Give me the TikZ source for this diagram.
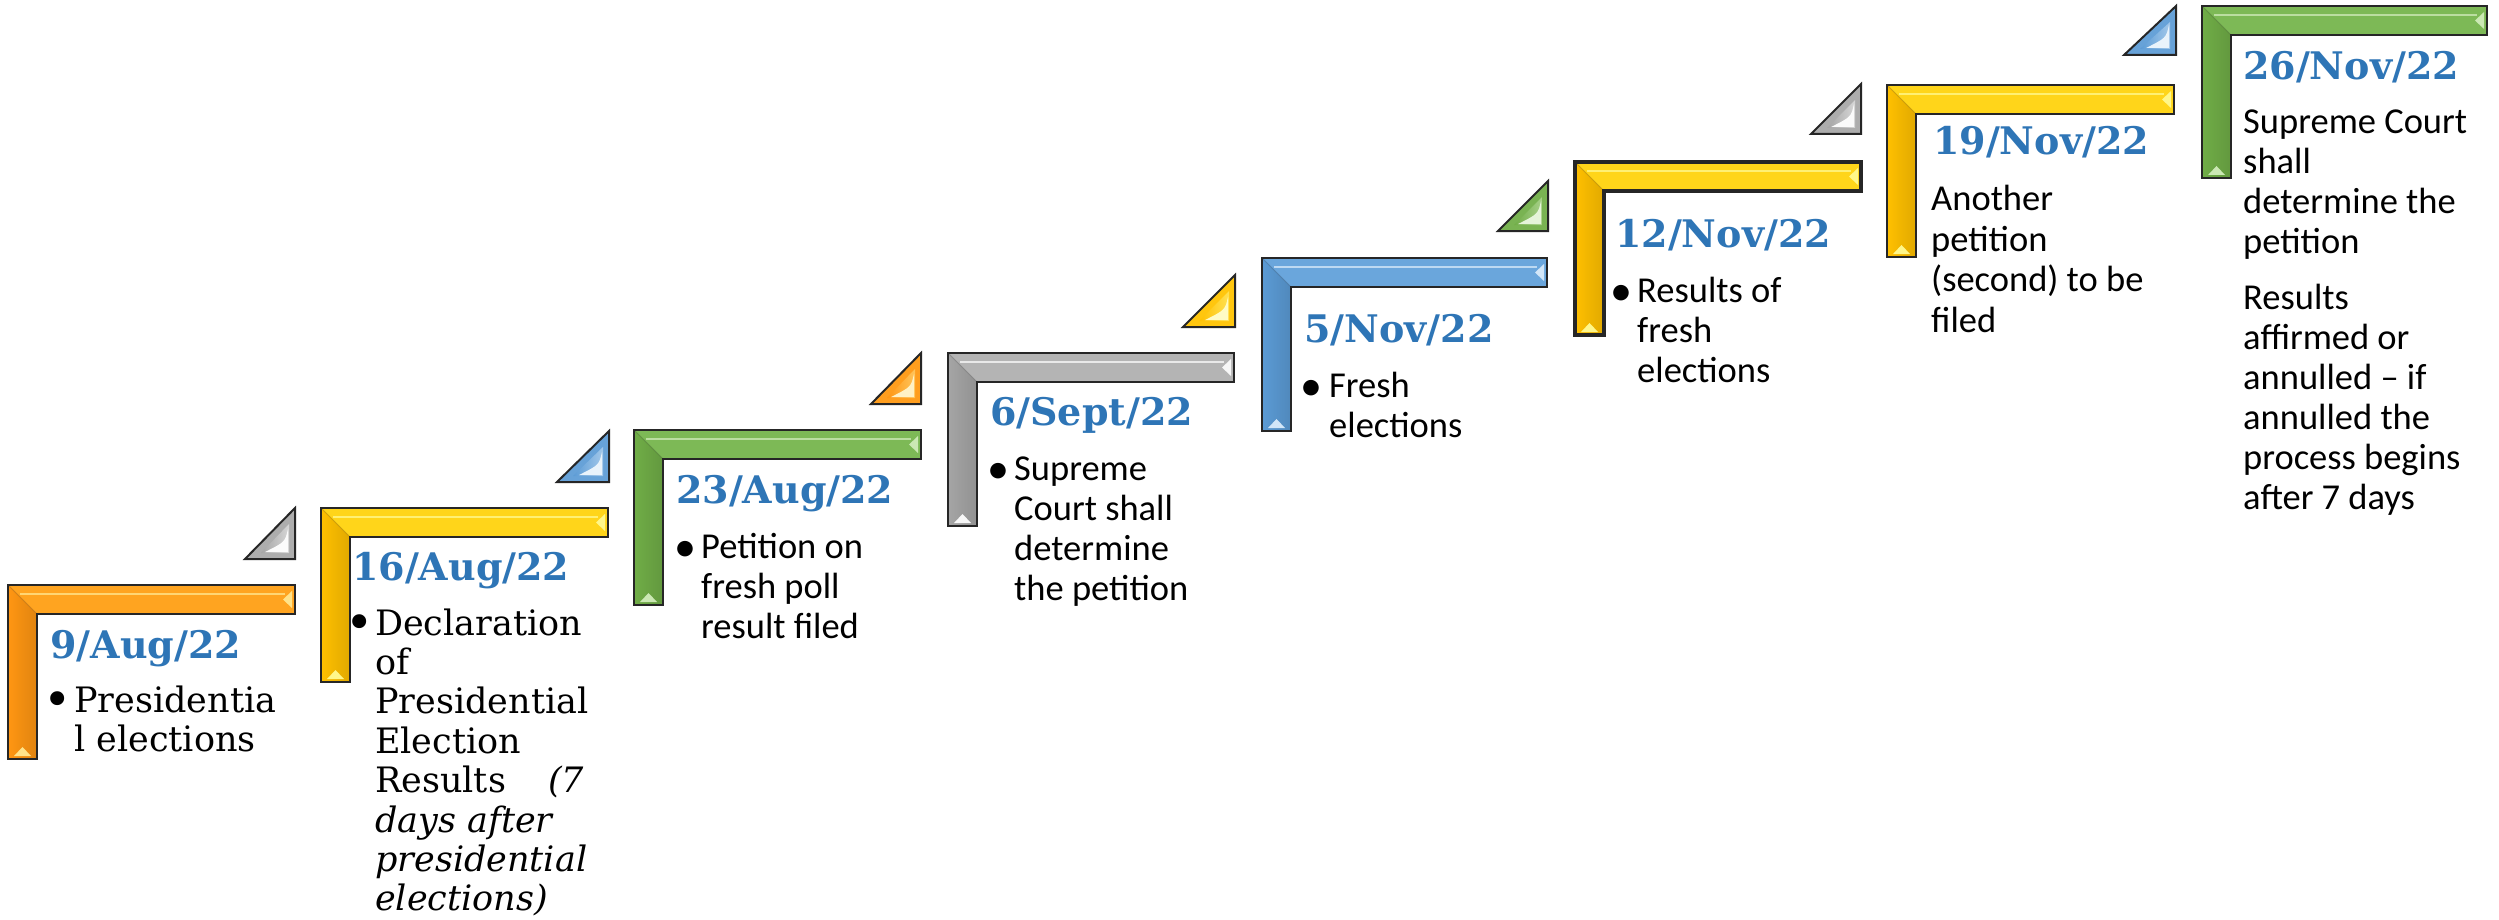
\documentclass[tikz,border=0pt]{standalone}
\usepackage{fontspec}
\setmainfont{Carlito}
\newfontfamily\datefont{DejaVu Serif}
\newfontfamily\oldserif{DejaVu Serif}
\definecolor{dateblue}{HTML}{2E75B6}
\definecolor{orbase}{HTML}{FF9612}
\definecolor{orbar}{HTML}{FFA420}
\definecolor{orlight}{HTML}{FFE38A}
\definecolor{yebase}{HTML}{FFC000}
\definecolor{yebar}{HTML}{FFD51A}
\definecolor{yelight}{HTML}{FFF78A}
\definecolor{grbase}{HTML}{70AD47}
\definecolor{grbar}{HTML}{7DB956}
\definecolor{grlight}{HTML}{CBE8B4}
\definecolor{gybase}{HTML}{A5A5A5}
\definecolor{gybar}{HTML}{B4B4B4}
\definecolor{gylight}{HTML}{F7F7F7}
\definecolor{blbase}{HTML}{5B9BD5}
\definecolor{blbar}{HTML}{6AA6DC}
\definecolor{bllight}{HTML}{D2E6F8}
% #1 left #2 top #3 right #4 bottom #5 vertical colour #6 bar colour #7 light colour #8 border width
\newcommand\Lshape[8]{%
  \pgfmathsetmacro\lsX{#1+29}\pgfmathsetmacro\lsY{#2+29}%
  \shade[top color=#6, middle color=#7, bottom color=#6]
    (#1,#2) -- (#3,#2) -- (#3,\lsY) -- (\lsX,\lsY) -- cycle;
  \draw[#7, line width=1.2pt, opacity=0.8] (#1+12,#2+9) -- (#3-10,#2+9);
  \shade[left color=#5, middle color=#5!45!#7, right color=#5!88!black]
    (#1,#2) -- (\lsX,\lsY) -- (\lsX,#4) -- (#1,#4) -- cycle;
  \draw[#5!70!black, line width=0.8pt, opacity=0.6] (#1,#2) -- (\lsX,\lsY);
  \fill[#7] (#3-3,#2+6) -- (#3-3,\lsY-6) -- (#3-12,#2+14.5) -- cycle;
  \fill[#7] (#1+6,#4-3) -- (\lsX-6,#4-3) -- (#1+14.5,#4-12) -- cycle;
  \draw[line width=#8, black!85]
    (#1,#2) -- (#3,#2) -- (#3,\lsY) -- (\lsX,\lsY) -- (\lsX,#4) -- (#1,#4) -- cycle;
}
% #1 x1 #2 y1 #3 x2 #4 y2 #5 base #6 light
\newcommand\Tri[6]{%
  \fill[#5!90!#6] (#1,#4) -- (#3,#2) -- (#3,#4) -- cycle;
  \shade[left color=#5, right color=#5!40!#6] (#1+16,#4-6) -- (#3-6,#2+16) -- (#3-6,#4-6) -- cycle;
  \fill[#6!50!white] (#3-7,#4-7) -- (#3-7,#4-30) .. controls (#3-10,#4-17) .. (#3-30,#4-7) -- cycle;
  \draw[line width=2pt, black!85, line join=miter] (#1,#4) -- (#3,#2) -- (#3,#4) -- cycle;
}
\begin{document}
\begin{tikzpicture}[x=1pt,y=-1pt,
  date/.style={anchor=base west, inner sep=0pt, text=dateblue,
    font=\datefont\bfseries\fontsize{38}{40}\selectfont},
  body/.style={anchor=base west, inner sep=0pt, font=\fontsize{36.5}{40}\selectfont},
  bodyb/.style={anchor=base west, inner sep=0pt, font=\fontsize{36.5}{40.5}\selectfont},
  bodyc/.style={anchor=base west, inner sep=0pt, font=\fontsize{36.5}{40}\selectfont},
  oldbody/.style={anchor=base west, inner sep=0pt,
    font=\oldserif\fontsize{35}{39.4}\selectfont},
  dotmark/.style={anchor=base, inner sep=0pt, font=\fontsize{44}{44}\selectfont},
  olddot/.style={anchor=base, inner sep=0pt, font=\oldserif\fontsize{48}{48}\selectfont}]
\fill[white] (0,0) rectangle (2499,920);
\useasboundingbox (0,0) rectangle (2499,920);

% triangles
\Tri{245}{508}{295}{559}{gybase}{gylight}
\Tri{557}{431}{609}{482}{blbase}{bllight}
\Tri{871}{353}{921}{404}{orbase}{orlight}
\Tri{1183}{275}{1235}{327}{yebase}{yelight}
\Tri{1498}{181}{1548}{231}{grbase}{grlight}
\Tri{1811}{84}{1861}{134}{gybase}{gylight}
\Tri{2124}{6}{2176}{55}{blbase}{bllight}

% L brackets
\Lshape{8}{585}{295}{759}{orbase}{orbar}{orlight}{2pt}
\Lshape{321}{508}{608}{682}{yebase}{yebar}{yelight}{2pt}
\Lshape{634}{430}{921}{605}{grbase}{grbar}{grlight}{2pt}
\Lshape{948}{353}{1234}{526}{gybase}{gybar}{gylight}{2pt}
\Lshape{1262}{258}{1547}{431}{blbase}{blbar}{bllight}{2pt}
\Lshape{1575}{162}{1861}{335}{yebase}{yebar}{yelight}{4.5pt}
\Lshape{1887}{85}{2174}{257}{yebase}{yebar}{yelight}{2pt}
\Lshape{2202}{6}{2487}{178}{grbase}{grbar}{grlight}{2pt}

% dates
\node[date] (d1) at (50,658) {9/Aug/22};
\node[date] (d2) at (352,580) {16/Aug/22};
\node[date] (d3) at (676,503) {23/Aug/22};
\node[date] (d4) at (990,425) {6/Sept/22};
\node[date] (d5) at (1304,342) {5/Nov/22};
\node[date] (d6) at (1615,247) {12/Nov/22};
\node[date] (d7) at (1933,155) {19/Nov/22};
\node[date] (d8) at (2243,80) {26/Nov/22};

% step 1
\node[olddot] (b1) at (58,716) {•};
\node[oldbody] (t1) at (74,712) {\begin{tabular}[t]{@{}l@{}}Presidentia\\l elections\end{tabular}};
% step 2
\node[olddot] (b2) at (360,639) {•};
\node[oldbody] (t2) at (375,635) {\begin{tabular}[t]{@{}l@{}}Declaration\\of\\Presidential\\Election\\
  \makebox[209pt][s]{Results \itshape(7}\\\textit{days after}\\\textit{presidential}\\\textit{elections)}\end{tabular}};
% step 3
\node[dotmark] (b3) at (685,561) {•};
\node[body] (t3) at (701,558) {\begin{tabular}[t]{@{}l@{}}Petition on\\fresh poll\\result filed\end{tabular}};
% step 4
\node[dotmark] (b4) at (998,483) {•};
\node[body] (t4) at (1014,480) {\begin{tabular}[t]{@{}l@{}}Supreme\\Court shall\\determine\\the petition\end{tabular}};
% step 5
\node[dotmark] (b5) at (1311,400) {•};
\node[body] (t5) at (1329,397) {\begin{tabular}[t]{@{}l@{}}Fresh\\elections\end{tabular}};
% step 6
\node[dotmark] (b6) at (1621,305) {•};
\node[body] (t6) at (1637,302) {\begin{tabular}[t]{@{}l@{}}Results of\\fresh\\elections\end{tabular}};
% step 7
\node[bodyb] (t7) at (1931,211) {\begin{tabular}[t]{@{}l@{}}Another\\petition\\(second) to be\\filed\end{tabular}};
% step 8
\node[bodyc] (t8) at (2243,134) {\begin{tabular}[t]{@{}l@{}}Supreme Court\\shall\\determine the\\petition\\[16pt]Results\\affirmed or\\annulled – if\\annulled the\\process begins\\after 7 days\end{tabular}};
\end{tikzpicture}
\end{document}
